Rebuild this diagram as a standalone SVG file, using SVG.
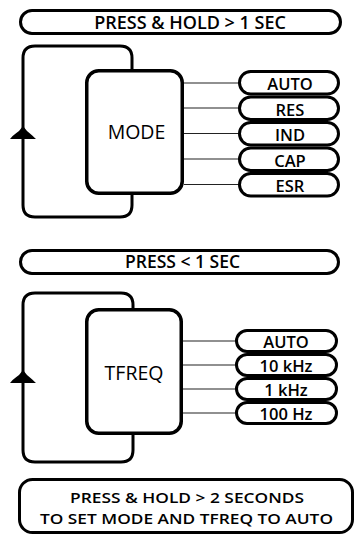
<svg xmlns="http://www.w3.org/2000/svg" width="356" height="535" viewBox="0 0 356 535">
<style>
.pill{fill:#fff;stroke:#000;stroke-width:3}
.box{fill:#fff;stroke:#000;stroke-width:3.5}
.loop{fill:none;stroke:#000;stroke-width:3}
.wire{stroke:#222;stroke-width:1.2;fill:none}
.arr{fill:#000}
text{font-family:"Open Sans","Noto Sans","DejaVu Sans",sans-serif;fill:#000;text-anchor:middle}
.hdr{font-size:18px;font-weight:600}
.hdr2{font-size:17.5px;font-weight:600}
.note{font-size:15.2px;font-weight:600}
.lbl{font-size:16.5px;font-weight:600}
.big{font-size:19.5px;font-weight:500}
</style>
<rect width="356" height="535" fill="#fff"/>
<g id="header1"><rect class="pill" x="20.5" y="10.5" width="320" height="23" rx="11.5"/><text class="hdr" x="190" y="28.5">PRESS &amp; HOLD &gt; 1 SEC</text></g>
<g id="connectors">
<path class="loop" d="M132,70 V58 Q132,46 120,46 H35 Q23,46 23,58 V205 Q23,217 35,217 H120 Q132,217 132,205 V194"/>
<path class="arr" d="M23,126 L19,131 Q12,136 10,139 H36 Q33,136 27,131 Z"/>
<path class="wire" d="M184,83 H239 M184,108 H239 M184,133.5 H239 M184,159 H239 M184,184.5 H239"/>
<path class="loop" d="M133,309 V305 Q133,293 121,293 H35 Q23,293 23,305 V450 Q23,462 35,462 H121 Q133,462 133,450 V434"/>
<path class="arr" d="M23,370 L19,375 Q12,380 10,383 H36 Q33,380 27,375 Z"/>
<path class="wire" d="M183,341 H236 M183,365 H236 M183,389 H236 M183,413 H236"/>
</g>
<g id="mode"><rect class="box" x="86.75" y="70.75" width="95.5" height="122.5" rx="12"/><text class="big" x="136.5" y="139">MODE</text></g>
<g id="mode-auto"><rect class="pill" x="239.5" y="71.5" width="99" height="22.5" rx="11.25"/><text class="lbl" x="290" y="90">AUTO</text></g>
<g id="mode-res"><rect class="pill" x="239.5" y="97" width="99" height="22.5" rx="11.25"/><text class="lbl" x="290" y="115.5">RES</text></g>
<g id="mode-ind"><rect class="pill" x="239.5" y="122.5" width="99" height="22.5" rx="11.25"/><text class="lbl" x="290" y="141">IND</text></g>
<g id="mode-cap"><rect class="pill" x="239.5" y="148" width="99" height="22.5" rx="11.25"/><text class="lbl" x="290" y="166.5">CAP</text></g>
<g id="mode-esr"><rect class="pill" x="239.5" y="173.5" width="99" height="22.5" rx="11.25"/><text class="lbl" x="290" y="192">ESR</text></g>
<g id="header2"><rect class="pill" x="20.5" y="250.5" width="318" height="23" rx="11.5"/><text class="hdr2" x="182.5" y="268">PRESS &lt; 1 SEC</text></g>
<g id="tfreq"><rect class="box" x="86.75" y="309.75" width="94.5" height="123.5" rx="12"/><text class="big" x="134" y="380">TFREQ</text></g>
<g id="tfreq-auto"><rect class="pill" x="236.5" y="330.5" width="100" height="21" rx="10.5"/><text class="lbl" x="286" y="347.5">AUTO</text></g>
<g id="tfreq-10k"><rect class="pill" x="236.5" y="354.5" width="100" height="21" rx="10.5"/><text class="lbl" x="286" y="371.5">10 kHz</text></g>
<g id="tfreq-1k"><rect class="pill" x="236.5" y="378.5" width="100" height="21" rx="10.5"/><text class="lbl" x="286" y="395.5">1 kHz</text></g>
<g id="tfreq-100"><rect class="pill" x="236.5" y="402.5" width="100" height="21" rx="10.5"/><text class="lbl" x="286" y="419.5">100 Hz</text></g>
<g id="note"><rect class="pill" x="19.5" y="479.5" width="333" height="53" rx="13"/><text class="note" x="187" y="502.5" textLength="234" lengthAdjust="spacingAndGlyphs">PRESS &amp; HOLD &gt; 2 SECONDS</text><text class="note" x="186.5" y="523.5" textLength="293" lengthAdjust="spacingAndGlyphs">TO SET MODE AND TFREQ  TO AUTO</text></g>
</svg>
